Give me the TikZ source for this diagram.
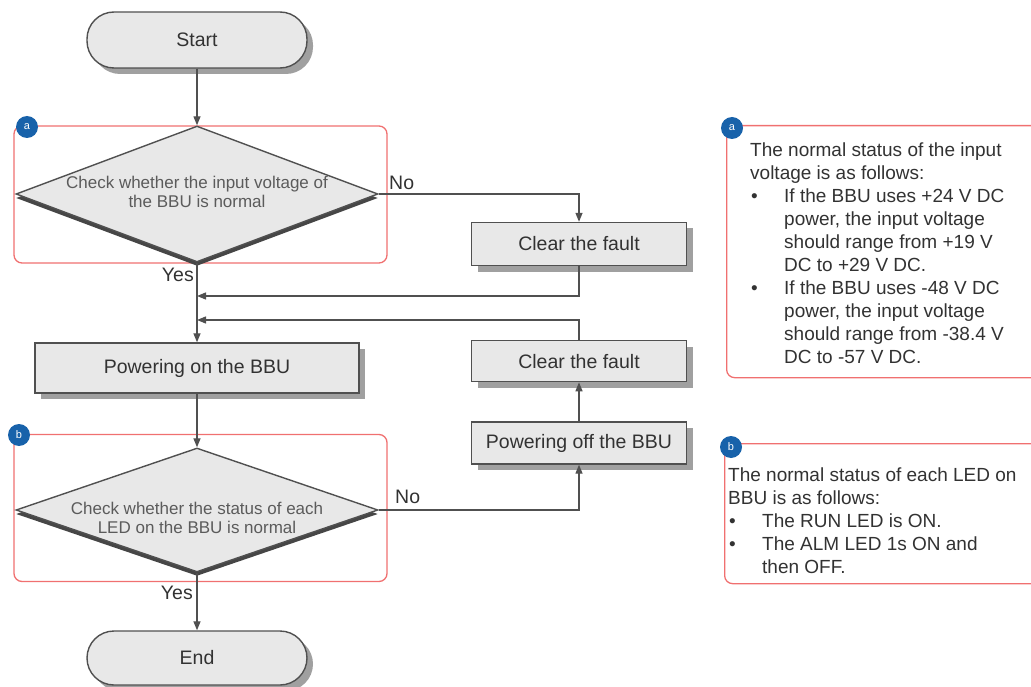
\documentclass[tikz,border=0pt]{standalone}
\usepackage{fontspec}
\setmainfont{Liberation Sans}
\usetikzlibrary{positioning}
\usetikzlibrary{shapes.geometric,shadows,arrows.meta}

\definecolor{boxgray}{RGB}{232,232,232}
\definecolor{edgegray}{RGB}{80,80,80}
\definecolor{shadegray}{RGB}{160,160,160}
\definecolor{darkshade}{RGB}{70,70,70}
\definecolor{grpred}{RGB}{240,112,112}
\definecolor{badgeblue}{RGB}{24,98,170}
\definecolor{txtgray}{RGB}{50,50,50}

\newcommand{\bfont}{\fontsize{19.5}{23}\selectfont}
\newcommand{\dfont}{\fontsize{17}{19}\selectfont}
\newcommand{\nfont}{\fontsize{19}{23}\selectfont}
\newcommand{\bul}{\makebox[34pt][l]{\hspace{1pt}\textbullet}}
\newcommand{\cont}{\hspace*{34pt}}

\begin{document}
\begin{tikzpicture}[x=1pt,y=-1pt,
  term/.style={rectangle,rounded corners=27pt,draw=edgegray,line width=1.4pt,fill=boxgray,minimum width=220pt,font=\bfont,text=txtgray,drop shadow={shadow xshift=6pt,shadow yshift=-6pt,fill=shadegray,opacity=1}},
  proc/.style={rectangle,draw=edgegray,line width=1.4pt,fill=boxgray,font=\bfont,text=txtgray,drop shadow={shadow xshift=6pt,shadow yshift=-6pt,fill=shadegray,opacity=1}},
  decision/.style={diamond,draw=edgegray,line width=1.4pt,fill=boxgray,minimum width=362pt,inner sep=0pt,drop shadow={shadow xshift=0pt,shadow yshift=-4pt,fill=darkshade,opacity=1}},
  dtext/.style={font=\dfont,text=txtgray!80,align=center,inner sep=0pt},
  grp/.style={draw=grpred,line width=1.3pt,rounded corners=8pt,inner sep=0pt},
  badge/.style={circle,fill=badgeblue,text=white,minimum size=22pt,inner sep=0pt,font=\fontsize{11}{11}\selectfont},
  lbl/.style={font=\bfont,text=txtgray,inner sep=0pt},
  note/.style={font=\nfont,text=txtgray,align=left,inner sep=0pt,anchor=north west},
  arr/.style={draw=edgegray,line width=1.3pt,-{Triangle[length=9pt,width=7pt]}}
]
\useasboundingbox (0,0) rectangle (1031,687);
\clip (0,0) rectangle (1031,687);

\node[grp,minimum width=373pt,minimum height=137pt] (grpa) at (200.5,194.5) {};
\node[grp,minimum width=373pt,minimum height=147pt] (grpb) at (200.5,508) {};
\node[grp,anchor=north west,minimum width=330pt,minimum height=252pt] (notea) at (726,125) {};
\node[grp,anchor=north west,minimum width=330pt,minimum height=140pt] (noteb) at (724,443) {};

\node[term,minimum height=56pt] (start) at (197,40) {Start};
\node[decision,minimum height=136pt] (d1) at (197,194) {};
\node[dtext] (d1text) at (197,192) {Check whether the input voltage of\\the BBU is normal};
\node[proc,minimum width=215pt,minimum height=43pt] (fault1) at (579,244) {Clear the fault};
\node[proc,minimum width=324pt,minimum height=50pt] (poweron) at (197,368) {Powering on the BBU};
\node[proc,minimum width=215pt,minimum height=42pt] (poweroff) at (579,443) {Powering off the BBU};
\node[proc,minimum width=215pt,minimum height=41pt,above=39pt of poweroff] (fault2) {Clear the fault};
\node[decision,minimum height=124pt] (d2) at (197,510) {};
\node[dtext,text depth=0pt] (d2text) at (197,518) {Check whether the status of each\\LED on the BBU is normal};
\node[term,minimum height=54pt] (end) at (197,658) {End};

\node[badge] (ba) at (27,127) {a};
\node[badge] (bb) at (19,435) {b};
\node[badge] (nba) at (732,128) {a};
\node[badge] (nbb) at (731,447) {b};

\node[lbl,anchor=west] (no1) at (389,183) {No};
\node[lbl,anchor=east] (yes1) at (194,275) {Yes};
\node[lbl,anchor=west] (no2) at (395,497) {No};
\node[lbl,anchor=east] (yes2) at (193,593) {Yes};

\coordinate (m1) at (197,296);
\coordinate (m2) at (197,320);

\draw[arr] (start.south) -- (d1.north);
\draw[arr] (d1.east) -| (fault1.north);
\draw[arr] (fault1.south) |- (m1);
\draw[arr] (fault2.north) |- (m2);
\draw[arr] (d1.south) -- (poweron.north);
\draw[arr] (poweron.south) -- (d2.north);
\draw[arr] (d2.east) -| (poweroff.south);
\draw[arr] (poweroff.north) -- (fault2.south);
\draw[arr] (d2.south) -- (end.north);

\node[note] (notetxta) at (750,143) {The normal status of the input\\
  voltage is as follows:\\
  \bul If the BBU uses +24 V DC\\
  \cont power, the input voltage\\
  \cont should range from +19 V\\
  \cont DC to +29 V DC.\\
  \bul If the BBU uses -48 V DC\\
  \cont power, the input voltage\\
  \cont should range from -38.4 V\\
  \cont DC to -57 V DC.};
\node[note] (notetxtb) at (728,468) {The normal status of each LED on\\
  BBU is as follows:\\
  \bul The RUN LED is ON.\\
  \bul The ALM LED 1s ON and\\
  \cont then OFF.};
\end{tikzpicture}
\end{document}
